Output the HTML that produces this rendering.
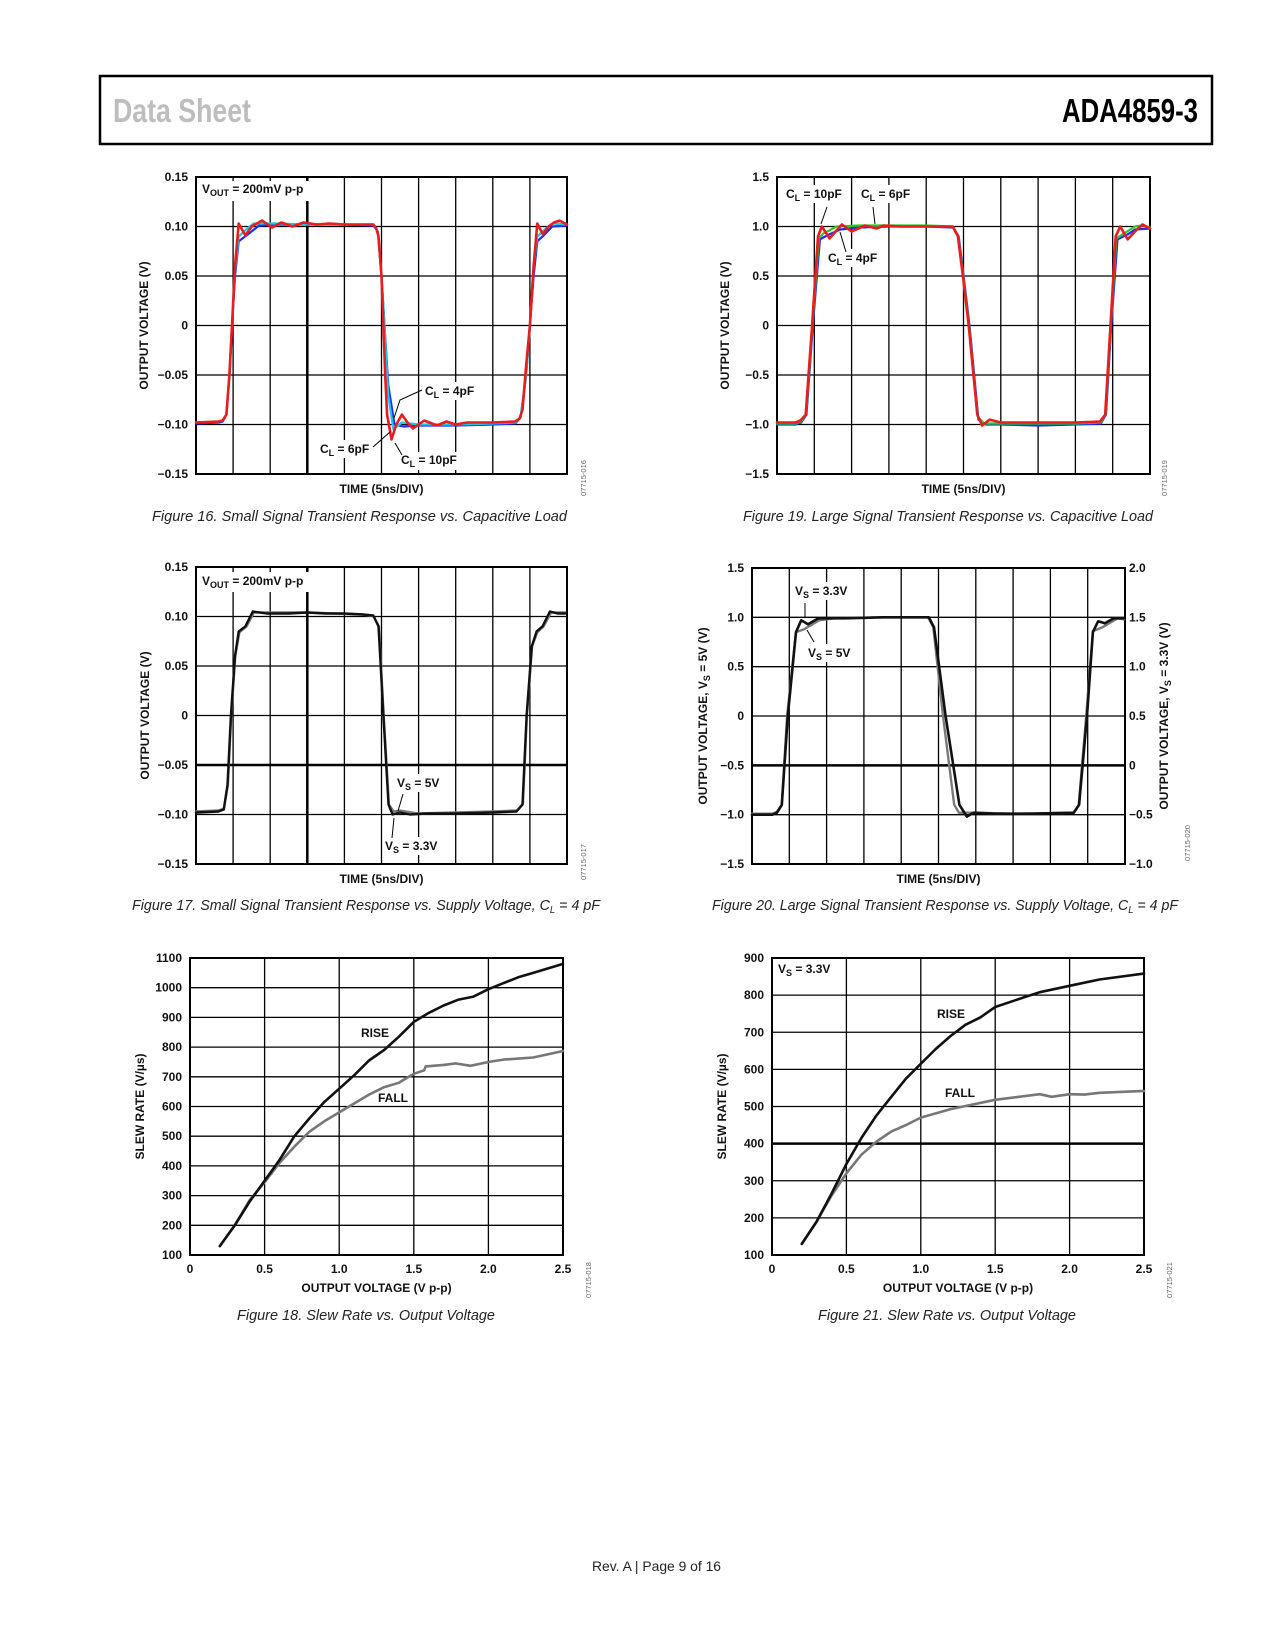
<!DOCTYPE html>
<html><head><meta charset="utf-8"><title>ADA4859-3 Data Sheet page 9</title>
<style>
html,body{margin:0;padding:0;background:#fff;}
svg{display:block;}
text{font-family:"Liberation Sans",sans-serif;}
.tk{font-size:12px;font-weight:bold;fill:#111;}
.ax{font-size:12px;font-weight:bold;fill:#111;}
.an{font-size:12px;font-weight:bold;fill:#111;}
.cap{font-size:15px;font-style:italic;fill:#222;}
.code{font-size:7.5px;fill:#666;}
</style></head>
<body>
<svg id="page" width="1275" height="1650" viewBox="0 0 1275 1650" xmlns="http://www.w3.org/2000/svg">
<rect x="0" y="0" width="1275" height="1650" fill="#fff"/>
<rect x="100" y="76" width="1112" height="68" fill="none" stroke="#000" stroke-width="2.5"/>
<text x="113" y="122" font-size="33" font-weight="bold" fill="#bdbdbd" textLength="138" lengthAdjust="spacingAndGlyphs">Data Sheet</text>
<text x="1062" y="122" font-size="33" font-weight="bold" fill="#000" textLength="136" lengthAdjust="spacingAndGlyphs">ADA4859-3</text>

<g id="charts"></g>

<g id="annotations">
<!-- Fig 16 -->
<rect x="199" y="181" width="120" height="20" fill="#fff"/>
<text class="an" x="202" y="193">V<tspan dy="3" font-size="9">OUT</tspan><tspan dy="-3"> = 200mV p-p</tspan></text>
<rect x="423" y="382" width="58" height="18" fill="#fff"/>
<text class="an" x="425" y="395">C<tspan dy="3" font-size="9">L</tspan><tspan dy="-3"> = 4pF</tspan></text>
<polyline points="422,390 400,400 394,418" fill="none" stroke="#000" stroke-width="1"/>
<rect x="318" y="440" width="54" height="18" fill="#fff"/>
<text class="an" x="320" y="453">C<tspan dy="3" font-size="9">L</tspan><tspan dy="-3"> = 6pF</tspan></text>
<line x1="373" y1="447" x2="390" y2="432" stroke="#000" stroke-width="1"/>
<rect x="399" y="452" width="62" height="18" fill="#fff"/>
<text class="an" x="401" y="464">C<tspan dy="3" font-size="9">L</tspan><tspan dy="-3"> = 10pF</tspan></text>
<line x1="402" y1="455" x2="395" y2="443" stroke="#000" stroke-width="1"/>
<!-- Fig 19 -->
<rect x="783" y="185" width="64" height="18" fill="#fff"/>
<text class="an" x="786" y="198">C<tspan dy="3" font-size="9">L</tspan><tspan dy="-3"> = 10pF</tspan></text>
<line x1="827" y1="207" x2="821" y2="224" stroke="#000" stroke-width="1"/>
<rect x="858" y="185" width="56" height="18" fill="#fff"/>
<text class="an" x="861" y="198">C<tspan dy="3" font-size="9">L</tspan><tspan dy="-3"> = 6pF</tspan></text>
<line x1="873" y1="207" x2="875" y2="224" stroke="#000" stroke-width="1"/>
<rect x="826" y="249" width="56" height="18" fill="#fff"/>
<text class="an" x="828" y="262">C<tspan dy="3" font-size="9">L</tspan><tspan dy="-3"> = 4pF</tspan></text>
<line x1="846" y1="252" x2="840" y2="232" stroke="#000" stroke-width="1"/>
<!-- Fig 17 -->
<rect x="199" y="572" width="120" height="20" fill="#fff"/>
<text class="an" x="202" y="585">V<tspan dy="3" font-size="9">OUT</tspan><tspan dy="-3"> = 200mV p-p</tspan></text>
<rect x="395" y="774" width="50" height="18" fill="#fff"/>
<text class="an" x="397" y="787">V<tspan dy="3" font-size="9">S</tspan><tspan dy="-3"> = 5V</tspan></text>
<line x1="403" y1="794" x2="398" y2="811" stroke="#000" stroke-width="1"/>
<rect x="383" y="837" width="62" height="18" fill="#fff"/>
<text class="an" x="385" y="850">V<tspan dy="3" font-size="9">S</tspan><tspan dy="-3"> = 3.3V</tspan></text>
<line x1="392" y1="838" x2="394" y2="818" stroke="#000" stroke-width="1"/>
<!-- Fig 20 -->
<rect x="793" y="582" width="62" height="18" fill="#fff"/>
<text class="an" x="795" y="595">V<tspan dy="3" font-size="9">S</tspan><tspan dy="-3"> = 3.3V</tspan></text>
<line x1="805" y1="603" x2="805" y2="617" stroke="#000" stroke-width="1"/>
<rect x="806" y="644" width="50" height="18" fill="#fff"/>
<text class="an" x="808" y="657">V<tspan dy="3" font-size="9">S</tspan><tspan dy="-3"> = 5V</tspan></text>
<line x1="814" y1="642" x2="807" y2="630" stroke="#000" stroke-width="1"/>
<!-- Fig 18 -->
<text class="an" x="361" y="1037">RISE</text>
<text class="an" x="378" y="1102">FALL</text>
<!-- Fig 21 -->
<rect x="775" y="961" width="70" height="18" fill="#fff"/>
<text class="an" x="778" y="973">V<tspan dy="3" font-size="9">S</tspan><tspan dy="-3"> = 3.3V</tspan></text>
<text class="an" x="937" y="1018">RISE</text>
<text class="an" x="945" y="1097">FALL</text>
</g>

<g>
<text class="cap" x="152" y="521" textLength="415" lengthAdjust="spacingAndGlyphs">Figure 16. Small Signal Transient Response vs. Capacitive Load</text>
<text class="cap" x="743" y="521" textLength="410" lengthAdjust="spacingAndGlyphs">Figure 19. Large Signal Transient Response vs. Capacitive Load</text>
<text class="cap" x="132" y="910" textLength="468" lengthAdjust="spacingAndGlyphs">Figure 17. Small Signal Transient Response vs. Supply Voltage, C<tspan dy="3" font-size="10">L</tspan><tspan dy="-3"> = 4 pF</tspan></text>
<text class="cap" x="712" y="910" textLength="466" lengthAdjust="spacingAndGlyphs">Figure 20. Large Signal Transient Response vs. Supply Voltage, C<tspan dy="3" font-size="10">L</tspan><tspan dy="-3"> = 4 pF</tspan></text>
<text class="cap" x="237" y="1320" textLength="258" lengthAdjust="spacingAndGlyphs">Figure 18. Slew Rate vs. Output Voltage</text>
<text class="cap" x="818" y="1320" textLength="258" lengthAdjust="spacingAndGlyphs">Figure 21. Slew Rate vs. Output Voltage</text>
<text x="592" y="1571" font-size="14" fill="#222" textLength="129" lengthAdjust="spacingAndGlyphs">Rev. A | Page 9 of 16</text>
</g>
</svg>

<script>
// ---- tick labels ----
const ySmallTicks = ["0.15","0.10","0.05","0","\u22120.05","\u22120.10","\u22120.15"];
const yLargeTicks = ["1.5","1.0","0.5","0","\u22120.5","\u22121.0","\u22121.5"];
const yRightTicks20 = ["2.0","1.5","1.0","0.5","0","\u22120.5","\u22121.0"];
const xSlewTicks = ["0","0.5","1.0","1.5","2.0","2.5"];
const ySlew18Ticks = ["1100","1000","900","800","700","600","500","400","300","200","100"];
const ySlew21Ticks = ["900","800","700","600","500","400","300","200","100"];

// ---- Figure 16 data (x in time divisions, y in volts) ----
const f16RedT = [0,0.6,0.72,0.82,0.9,0.97,1.05,1.15,1.33,1.5,1.78,2.05,2.3,2.6,2.9,3.25,3.6,4.0,4.5,4.78,4.86,4.92,5.0,5.05,5.1,5.15,5.27,5.4,5.55,5.7,5.85,6.15,6.5,6.75,7.0,7.3,8.0,8.6,8.72,8.8,8.9,9.0,9.1,9.2,9.35,9.5,9.65,9.8,10];
const f16RedV = [-0.098,-0.097,-0.096,-0.09,-0.05,0.0,0.06,0.103,0.091,0.1,0.106,0.099,0.104,0.1,0.104,0.102,0.103,0.102,0.102,0.102,0.098,0.09,0.05,0.0,-0.05,-0.09,-0.115,-0.1,-0.09,-0.098,-0.104,-0.096,-0.101,-0.097,-0.1,-0.098,-0.098,-0.097,-0.094,-0.085,-0.04,0.0,0.06,0.103,0.092,0.1,0.104,0.106,0.102];
const f16BlueT = [0,0.6,0.72,0.82,0.9,0.97,1.05,1.15,1.4,1.7,2.2,3,4,4.78,4.9,5.0,5.08,5.18,5.35,5.6,6,7,8,8.6,8.75,8.9,9.0,9.1,9.2,9.4,9.6,10];
const f16BlueV = [-0.099,-0.098,-0.097,-0.09,-0.05,0.0,0.05,0.085,0.092,0.101,0.102,0.102,0.102,0.101,0.095,0.05,0.0,-0.06,-0.1,-0.102,-0.101,-0.101,-0.1,-0.099,-0.093,-0.05,0.0,0.05,0.085,0.092,0.1,0.101];
const f16CyanT = [0,0.6,0.72,0.82,0.9,0.97,1.05,1.15,1.35,1.55,2.2,3,4,4.78,4.9,5.0,5.08,5.18,5.32,5.55,6,7,8,8.6,8.75,8.9,9.0,9.1,9.2,9.4,9.6,10];
const f16CyanV = [-0.098,-0.097,-0.096,-0.09,-0.05,0.0,0.055,0.09,0.097,0.103,0.103,0.102,0.102,0.102,0.095,0.05,0.0,-0.07,-0.105,-0.098,-0.1,-0.1,-0.099,-0.098,-0.093,-0.05,0.0,0.06,0.09,0.097,0.103,0.102];

// ---- Figure 19 data ----
const f19RedT = [0,0.5,0.63,0.77,0.94,1.1,1.2,1.41,1.74,2.0,2.36,2.67,2.86,3.3,4.0,4.71,4.85,5.0,5.14,5.37,5.5,5.7,6.0,7,8,8.66,8.8,8.94,9.08,9.2,9.4,9.6,9.8,10];
const f19RedV = [-0.98,-0.98,-0.96,-0.9,0,0.9,1.0,0.88,1.02,0.95,1.01,0.98,1.01,1.0,1.0,1.0,0.9,0.45,0,-0.9,-1.01,-0.95,-0.98,-0.98,-0.98,-0.97,-0.9,0,0.9,1.0,0.87,0.95,1.02,0.98];
const f19BlueT = [0,0.5,0.65,0.79,0.96,1.15,1.4,1.7,2.2,3,4,4.73,4.87,5.02,5.16,5.4,5.6,6,7,8,8.68,8.82,8.96,9.13,9.4,9.6,10];
const f19BlueV = [-1.0,-1.0,-0.98,-0.9,0,0.87,0.92,0.97,0.99,1.0,1.0,0.99,0.9,0.45,0,-0.95,-1.0,-1.0,-1.01,-1.0,-0.99,-0.9,0,0.87,0.92,0.97,0.98];
const f19GreenT = [0,0.5,0.64,0.78,0.95,1.12,1.25,1.6,2.2,3,4,4.72,4.86,5.01,5.15,5.38,5.55,6,7,8,8.67,8.81,8.95,9.1,9.3,9.6,9.8,10];
const f19GreenV = [-0.99,-0.99,-0.97,-0.9,0,0.88,0.93,1.0,1.01,1.01,1.01,1.0,0.9,0.45,0,-0.92,-0.99,-0.99,-0.99,-0.99,-0.98,-0.9,0,0.88,0.93,1.0,1.01,0.99];

// ---- Figure 17 data ----
const f17BlackT = [0,0.6,0.75,0.85,0.94,1.05,1.15,1.33,1.53,1.9,2.5,3.0,3.5,4.0,4.5,4.78,4.92,5.05,5.19,5.3,5.5,5.77,6.2,7,8,8.64,8.8,8.91,9.05,9.18,9.34,9.54,9.75,9.95];
const f17BlackV = [-0.098,-0.097,-0.095,-0.07,0,0.06,0.085,0.09,0.105,0.103,0.103,0.104,0.103,0.103,0.102,0.101,0.09,0,-0.09,-0.1,-0.098,-0.1,-0.099,-0.099,-0.098,-0.097,-0.09,0,0.07,0.085,0.09,0.105,0.103,0.103];
const f17GrayT = [0,0.6,0.75,0.86,0.95,1.06,1.17,1.36,1.56,1.9,3,4.5,4.79,4.93,5.06,5.2,5.33,5.5,6,7,8,8.65,8.81,8.92,9.06,9.2,9.37,9.57,9.95];
const f17GrayV = [-0.097,-0.096,-0.094,-0.07,0,0.06,0.084,0.09,0.104,0.104,0.104,0.102,0.1,0.09,0,-0.09,-0.097,-0.096,-0.099,-0.098,-0.097,-0.096,-0.089,0,0.07,0.084,0.09,0.104,0.104];

// ---- Figure 20 data ----
const f20BlackT = [0,0.55,0.67,0.8,0.96,1.18,1.32,1.5,1.78,2.5,3.5,4.74,4.88,5.19,5.56,5.76,5.94,6.5,7.5,8.63,8.77,8.98,9.14,9.28,9.46,9.7,9.97];
const f20BlackV = [-1.0,-1.0,-0.98,-0.9,0,0.85,0.97,0.93,0.99,0.99,1.0,1.0,0.9,0,-0.9,-1.02,-0.98,-0.99,-0.99,-0.98,-0.9,0,0.85,0.96,0.94,0.99,0.99];
const f20GrayT = [0,0.55,0.67,0.8,0.94,1.18,1.4,1.8,2.2,3.5,4.72,4.86,5.12,5.42,5.55,6,7,8.62,8.76,8.96,9.14,9.4,9.8,9.97];
const f20GrayV = [-0.99,-0.99,-0.97,-0.9,0,0.85,0.88,0.97,0.99,1.0,1.0,0.9,0,-0.9,-0.98,-0.98,-0.99,-0.98,-0.9,0,0.86,0.9,0.99,0.98];

// ---- Figure 18 data (slew rate) ----
const f18Volt = [0.2,0.3,0.4,0.5,0.6,0.7,0.8,0.9,1.0,1.1,1.2,1.3,1.4,1.5,1.6,1.7,1.8,1.9,2.0,2.1,2.2,2.3,2.4,2.5];
const f18Rise = [130,200,280,350,420,500,560,615,660,705,755,790,835,885,915,940,960,970,995,1015,1035,1050,1065,1080];
const f18FallV = [0.2,0.3,0.4,0.5,0.6,0.7,0.8,0.9,1.0,1.1,1.2,1.3,1.4,1.5,1.57,1.58,1.7,1.78,1.88,2.0,2.1,2.3,2.5];
const f18Fall = [130,200,285,345,410,465,515,550,580,610,640,665,680,710,722,735,740,745,737,750,758,765,787];

// ---- Figure 21 data ----
const f21RiseV = [0.2,0.3,0.4,0.5,0.6,0.7,0.8,0.9,1.0,1.1,1.2,1.3,1.4,1.5,1.7,1.8,2.0,2.2,2.5];
const f21Rise = [130,190,265,345,415,475,525,575,615,655,690,720,740,768,795,808,825,842,858];
const f21FallV = [0.2,0.3,0.4,0.5,0.6,0.7,0.8,0.9,1.0,1.2,1.5,1.8,1.88,2.0,2.1,2.2,2.5];
const f21Fall = [130,190,260,320,370,405,432,450,470,493,518,533,526,533,532,537,542];

const NS = "http://www.w3.org/2000/svg";
const root = document.getElementById("charts");
function el(tag, attrs, parent) {
  const e = document.createElementNS(NS, tag);
  for (const k in attrs) e.setAttribute(k, attrs[k]);
  (parent || root).appendChild(e);
  return e;
}

function makeChart(cfg) {
  const g = el("g", {});
  
  
  const sx = v => cfg.L + (v - cfg.xmin) / (cfg.xmax - cfg.xmin) * (cfg.R - cfg.L);
  const sy = v => cfg.B - (v - cfg.ymin) / (cfg.ymax - cfg.ymin) * (cfg.B - cfg.T);
  // grid
  for (let i = 1; i < cfg.nx; i++) {
    const x = cfg.L + i * (cfg.R - cfg.L) / cfg.nx;
    const ln = el("line", {x1: x, x2: x, y1: cfg.T, y2: cfg.B, stroke: "#000", "stroke-width": i === cfg.thickX ? 2.5 : 1.3}, g);
    
    
  }
  for (let j = 1; j < cfg.ny; j++) {
    const y = cfg.T + j * (cfg.B - cfg.T) / cfg.ny;
    const ln = el("line", {x1: cfg.L, x2: cfg.R, y1: y, y2: y, stroke: "#000", "stroke-width": j === cfg.thickY ? 2.5 : 1.3}, g);
    
    
  }
  const fr = el("rect", {x: cfg.L, y: cfg.T, width: cfg.R - cfg.L, height: cfg.B - cfg.T, fill: "none", stroke: "#000", "stroke-width": 2}, g);
  
  
  // y tick labels
  cfg.yTicks.forEach((t, j) => {
    const y = cfg.T + j * (cfg.B - cfg.T) / (cfg.yTicks.length - 1);
    const tx = el("text", {x: cfg.L - 8, y: y + 4, "text-anchor": "end", class: "tk"}, g);
    
    
    tx.textContent = t;
  });
  if (cfg.yRight) {
    cfg.yRight.forEach((t, j) => {
      const y = cfg.T + j * (cfg.B - cfg.T) / (cfg.yRight.length - 1);
      const tx = el("text", {x: cfg.R + 4, y: y + 4, "text-anchor": "start", class: "tk"}, g);
      
      
      tx.textContent = t;
    });
  }
  if (cfg.xTicks) {
    cfg.xTicks.forEach((t, i) => {
      const x = cfg.L + i * (cfg.R - cfg.L) / (cfg.xTicks.length - 1);
      const tx = el("text", {x: x, y: cfg.B + 18, "text-anchor": "middle", class: "tk"}, g);
      
      
      tx.textContent = t;
    });
  }
  // axis titles
  const xt = el("text", {x: (cfg.L + cfg.R) / 2, y: cfg.xTitleY, "text-anchor": "middle", class: "ax"}, g);
  
  
  xt.textContent = cfg.xTitle;
  const yt = el("text", {x: 0, y: 0, "text-anchor": "middle", class: "ax", transform: "translate(" + cfg.yTitleX + "," + (cfg.T + cfg.B) / 2 + ") rotate(-90)"}, g);
  
  
  yt.innerHTML = cfg.yTitle;
  if (cfg.yTitleR) {
    const yr = el("text", {x: 0, y: 0, "text-anchor": "middle", class: "ax", transform: "translate(" + cfg.yTitleRX + "," + (cfg.T + cfg.B) / 2 + ") rotate(-90)"}, g);
    
    
    yr.innerHTML = cfg.yTitleR;
  }
  const cd = el("text", {x: 0, y: 0, "text-anchor": "middle", class: "code", transform: "translate(" + cfg.codeX + "," + cfg.codeY + ") rotate(-90)"}, g);
  
  
  cd.textContent = cfg.code;
  return {g, sx, sy};
}

function plotLine(ch, xs, ys, color, w, name) {
  const pts = xs.map((x, i) => ch.sx(x).toFixed(1) + "," + ch.sy(ys[i]).toFixed(1)).join(" ");
  const p = el("polyline", {points: pts, fill: "none", stroke: color, "stroke-width": w, "stroke-linejoin": "round", "stroke-linecap": "round"}, ch.g);
  
  
}

const timeTitle = "TIME (5ns/DIV)";
const c16 = makeChart({name: "fig16-chart", L: 196, R: 567, T: 177, B: 474, xmin: 0, xmax: 10, ymin: -0.15, ymax: 0.15, nx: 10, ny: 6, thickX: 3, yTicks: ySmallTicks, xTitle: timeTitle, xTitleY: 493, yTitleX: 148, yTitle: "OUTPUT VOLTAGE (V)", code: "07715-016", codeX: 586, codeY: 478});
plotLine(c16, f16BlueT, f16BlueV, "#1a2cff", 2.2, "fig16-cl4-trace");
plotLine(c16, f16CyanT, f16CyanV, "#18c8e8", 2.2, "fig16-cl6-trace");
plotLine(c16, f16RedT, f16RedV, "#ea1c1c", 2.6, "fig16-cl10-trace");

const c19 = makeChart({name: "fig19-chart", L: 777, R: 1150, T: 177, B: 474, xmin: 0, xmax: 10, ymin: -1.5, ymax: 1.5, nx: 10, ny: 6, yTicks: yLargeTicks, xTitle: timeTitle, xTitleY: 493, yTitleX: 729, yTitle: "OUTPUT VOLTAGE (V)", code: "07715-019", codeX: 1167, codeY: 478});
plotLine(c19, f19BlueT, f19BlueV, "#1a2cff", 2.2, "fig19-cl4-trace");
plotLine(c19, f19GreenT, f19GreenV, "#22cc22", 2.2, "fig19-cl6-trace");
plotLine(c19, f19RedT, f19RedV, "#ea1c1c", 2.6, "fig19-cl10-trace");

const c17 = makeChart({name: "fig17-chart", L: 196, R: 567, T: 567, B: 864, xmin: 0, xmax: 10, ymin: -0.15, ymax: 0.15, nx: 10, ny: 6, thickX: 3, thickY: 4, yTicks: ySmallTicks, xTitle: timeTitle, xTitleY: 883, yTitleX: 149, yTitle: "OUTPUT VOLTAGE (V)", code: "07715-017", codeX: 586, codeY: 862});
plotLine(c17, f17GrayT, f17GrayV, "#7a7a7a", 2.4, "fig17-vs5-trace");
plotLine(c17, f17BlackT, f17BlackV, "#111", 2.4, "fig17-vs33-trace");

const c20 = makeChart({name: "fig20-chart", L: 752, R: 1125, T: 568, B: 864, xmin: 0, xmax: 10, ymin: -1.5, ymax: 1.5, nx: 10, ny: 6, thickY: 4, yTicks: yLargeTicks, yRight: yRightTicks20, xTitle: timeTitle, xTitleY: 883, yTitleX: 707, yTitle: 'OUTPUT VOLTAGE, V<tspan dy="3" font-size="9">S</tspan><tspan dy="-3"> = 5V (V)</tspan>', yTitleR: 'OUTPUT VOLTAGE, V<tspan dy="3" font-size="9">S</tspan><tspan dy="-3"> = 3.3V (V)</tspan>', yTitleRX: 1168, code: "07715-020", codeX: 1190, codeY: 843});
plotLine(c20, f20GrayT, f20GrayV, "#7a7a7a", 2.4, "fig20-vs5-trace");
plotLine(c20, f20BlackT, f20BlackV, "#111", 2.6, "fig20-vs33-trace");

const c18 = makeChart({name: "fig18-chart", L: 190, R: 563, T: 958, B: 1255, xmin: 0, xmax: 2.5, ymin: 100, ymax: 1100, nx: 5, ny: 10, yTicks: ySlew18Ticks, xTicks: xSlewTicks, xTitle: "OUTPUT VOLTAGE (V p-p)", xTitleY: 1292, yTitleX: 144, yTitle: "SLEW RATE (V/\u00b5s)", code: "07715-018", codeX: 591, codeY: 1280});
plotLine(c18, f18FallV, f18Fall, "#777", 2.6, "fig18-fall-curve");
plotLine(c18, f18Volt, f18Rise, "#111", 2.6, "fig18-rise-curve");

const c21 = makeChart({name: "fig21-chart", L: 772, R: 1144, T: 958, B: 1255, xmin: 0, xmax: 2.5, ymin: 100, ymax: 900, nx: 5, ny: 8, thickY: 5, yTicks: ySlew21Ticks, xTicks: xSlewTicks, xTitle: "OUTPUT VOLTAGE (V p-p)", xTitleY: 1292, yTitleX: 726, yTitle: "SLEW RATE (V/\u00b5s)", code: "07715-021", codeX: 1172, codeY: 1280});
plotLine(c21, f21FallV, f21Fall, "#777", 2.6, "fig21-fall-curve");
plotLine(c21, f21RiseV, f21Rise, "#111", 2.6, "fig21-rise-curve");

// bring annotations above traces
const svg = document.getElementById("page");
svg.appendChild(document.getElementById("annotations"));
</script>
</body></html>
